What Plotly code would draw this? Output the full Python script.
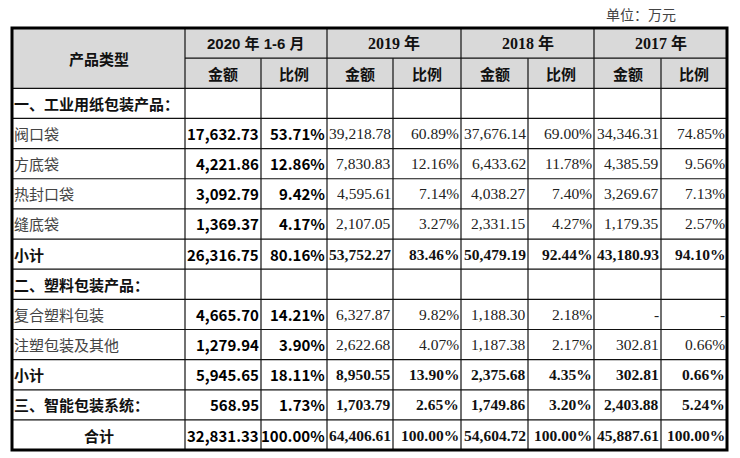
import plotly.graph_objects as go

# ---------------- data ----------------
unit_label = "单位：万元"
header_title = "产品类型"
periods = ["2020 年 1-6 月", "2019 年", "2018 年", "2017 年"]
sub_headers = ["金额", "比例"]

categories = ["一、工业用纸包装产品：", "阀口袋", "方底袋", "热封口袋", "缝底袋", "小计",
              "二、塑料包装产品：", "复合塑料包装", "注塑包装及其他", "小计",
              "三、智能包装系统：", "合计"]
row_kind = ["section", "item", "item", "item", "item", "subtotal",
            "section", "item", "item", "subtotal", "sectionval", "total"]

amount_2020 = [None, 17632.73, 4221.86, 3092.79, 1369.37, 26316.75, None, 4665.70, 1279.94, 5945.65, 568.95, 32831.33]
ratio_2020 = [None, 53.71, 12.86, 9.42, 4.17, 80.16, None, 14.21, 3.90, 18.11, 1.73, 100.00]
amount_2019 = [None, 39218.78, 7830.83, 4595.61, 2107.05, 53752.27, None, 6327.87, 2622.68, 8950.55, 1703.79, 64406.61]
ratio_2019 = [None, 60.89, 12.16, 7.14, 3.27, 83.46, None, 9.82, 4.07, 13.90, 2.65, 100.00]
amount_2018 = [None, 37676.14, 6433.62, 4038.27, 2331.15, 50479.19, None, 1188.30, 1187.38, 2375.68, 1749.86, 54604.72]
ratio_2018 = [None, 69.00, 11.78, 7.40, 4.27, 92.44, None, 2.18, 2.17, 4.35, 3.20, 100.00]
amount_2017 = [None, 34346.31, 4385.59, 3269.67, 1179.35, 43180.93, None, "-", 302.81, 302.81, 2403.88, 45887.61]
ratio_2017 = [None, 74.85, 9.56, 7.13, 2.57, 94.10, None, "-", 0.66, 0.66, 5.24, 100.00]

value_columns = [amount_2020, ratio_2020, amount_2019, ratio_2019,
                 amount_2018, ratio_2018, amount_2017, ratio_2017]


def fmt_amount(v):
    if v is None:
        return ""
    if isinstance(v, str):
        return v
    return f"{v:,.2f}"


def fmt_ratio(v):
    if v is None:
        return ""
    if isinstance(v, str):
        return v
    return f"{v:.2f}%"


# ---------------- layout / style ----------------
W, H = 740, 458
col_widths = [173, 76, 66, 66, 68, 67, 66, 67, 66]
left, top = 12, 28
row_h = 30.15
n_rows = 2 + len(categories)

x_edges = [left]
for w in col_widths:
    x_edges.append(x_edges[-1] + w)
y_edges = [top + i * row_h for i in range(n_rows + 1)]

HEADER_FILL = "#d9d9d9"
SANS = "Noto Sans CJK SC, Noto Sans, sans-serif"
SERIF = "Liberation Serif, Times New Roman, Noto Sans CJK SC, serif"
BOLD_SANS = "Noto Sans CJK SC, sans-serif"

fig = go.Figure()
fig.add_trace(go.Scatter(x=[0], y=[0], mode="markers", marker=dict(opacity=0),
                         hoverinfo="skip", showlegend=False))

shapes = []
annotations = []

# header background
shapes.append(dict(type="rect", xref="x", yref="y", x0=x_edges[0], x1=x_edges[-1],
                   y0=y_edges[0], y1=y_edges[2], fillcolor=HEADER_FILL,
                   line=dict(width=0), layer="below"))

LINE = dict(color="#111111", width=1.2)
# horizontal lines
for r in range(1, n_rows):
    y = y_edges[r]
    x0 = x_edges[1] if r == 1 else x_edges[0]
    shapes.append(dict(type="line", xref="x", yref="y", x0=x0, x1=x_edges[-1], y0=y, y1=y, line=LINE))
# vertical lines
for c in range(1, len(col_widths)):
    x = x_edges[c]
    y0 = y_edges[1] if c in (2, 4, 6, 8) else y_edges[0]
    shapes.append(dict(type="line", xref="x", yref="y", x0=x, x1=x, y0=y0, y1=y_edges[-1], line=LINE))
# outer border
shapes.append(dict(type="rect", xref="x", yref="y", x0=x_edges[0], x1=x_edges[-1],
                   y0=y_edges[0], y1=y_edges[-1], line=dict(color="#000000", width=3)))


def ann(text, x, y, xanchor="center", family=SANS, size=15, color="#111111", bold=False):
    t = f"<b>{text}</b>" if bold else text
    annotations.append(dict(text=t, x=x, y=y, xref="x", yref="y", xanchor=xanchor,
                            yanchor="middle", showarrow=False, borderpad=0, borderwidth=0,
                            font=dict(family=family, size=size, color=color)))


# unit label
ann(unit_label, 676, 15, xanchor="right", family=SERIF, size=14, color="#444444")

# header
ann(header_title, (x_edges[0] + x_edges[1]) / 2, y_edges[1], family=BOLD_SANS, size=15, bold=True)
for i, p in enumerate(periods):
    xc = (x_edges[1 + 2 * i] + x_edges[3 + 2 * i]) / 2
    fam = "Liberation Sans, Noto Sans CJK SC, sans-serif" if i == 0 else SERIF
    ann(p, xc, (y_edges[0] + y_edges[1]) / 2, family=fam, size=15 if i == 0 else 16, bold=True)
    for j, s in enumerate(sub_headers):
        c = 1 + 2 * i + j
        ann(s, (x_edges[c] + x_edges[c + 1]) / 2, (y_edges[1] + y_edges[2]) / 2,
            family=BOLD_SANS, size=15, bold=True)

# body
for r, (cat, kind) in enumerate(zip(categories, row_kind)):
    yc = (y_edges[r + 2] + y_edges[r + 3]) / 2
    if kind == "item":
        ann(cat, x_edges[0] + 2, yc, xanchor="left", family=SANS, size=15, color="#444444")
    elif kind == "total":
        ann(cat, (x_edges[0] + x_edges[1]) / 2, yc, family=BOLD_SANS, size=15, bold=True)
    else:
        ann(cat, x_edges[0] + 2, yc, xanchor="left", family=BOLD_SANS, size=15, bold=True)
    bold_row = kind in ("subtotal", "sectionval", "total")
    for c, col in enumerate(value_columns):
        v = col[r]
        txt = fmt_amount(v) if c % 2 == 0 else fmt_ratio(v)
        if txt == "":
            continue
        xr = x_edges[c + 2] - 2
        if c < 2:
            ann(txt, xr, yc, xanchor="right", family="Noto Sans CJK SC, sans-serif", size=15,
                color="#000000", bold=True)
        else:
            ann(txt, xr, yc, xanchor="right", family=SERIF, size=15.5,
                color="#111111" if bold_row else "#222222", bold=bold_row)

fig.update_layout(
    width=W, height=H,
    margin=dict(l=0, r=0, t=0, b=0),
    paper_bgcolor="white", plot_bgcolor="white",
    xaxis=dict(range=[0, W], visible=False, fixedrange=True),
    yaxis=dict(range=[H, 0], visible=False, fixedrange=True),
    shapes=shapes, annotations=annotations,
    showlegend=False,
)

fig.write_html("out.html", config=dict(displayModeBar=False),
               post_script="document.body.style.margin='0px';document.body.style.overflow='hidden';")
